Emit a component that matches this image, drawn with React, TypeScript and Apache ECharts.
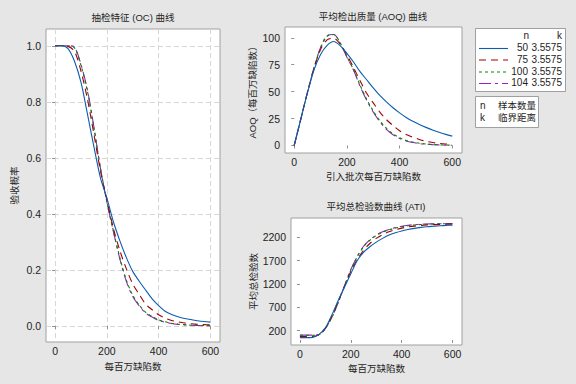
import React, { useEffect, useRef } from "react";
import * as echarts from "echarts";

// defects per million (x)
const xs = [0, 25, 50, 75, 100, 125, 150, 175, 200, 225, 250, 275, 300, 325, 350, 375, 400, 425, 450, 475, 500, 525, 550, 575, 600];

const sampleSizes = ["50", "75", "100", "104"];
const kValue = "3.5575";

// OC curve: probability of acceptance
const ocN50 = [1, 1, 0.99, 0.945, 0.87, 0.757, 0.64, 0.53, 0.457, 0.373, 0.305, 0.245, 0.195, 0.16, 0.128, 0.097, 0.073, 0.053, 0.041, 0.033, 0.027, 0.023, 0.019, 0.016, 0.014];
const ocN75 = [1, 1, 0.998, 0.98, 0.91, 0.81, 0.685, 0.555, 0.45, 0.35, 0.27, 0.205, 0.15, 0.113, 0.078, 0.058, 0.04, 0.028, 0.02, 0.015, 0.011, 0.008, 0.006, 0.005, 0.004];
const ocN100 = [1, 1, 1, 0.993, 0.93, 0.838, 0.707, 0.565, 0.445, 0.34, 0.245, 0.165, 0.11, 0.075, 0.049, 0.034, 0.022, 0.015, 0.01, 0.007, 0.005, 0.003, 0.002, 0.002, 0.001];
const ocN104 = [1, 1, 1, 0.995, 0.934, 0.843, 0.71, 0.565, 0.443, 0.338, 0.24, 0.16, 0.105, 0.072, 0.046, 0.032, 0.02, 0.014, 0.009, 0.006, 0.004, 0.003, 0.002, 0.001, 0.001];

// AOQ curve
const aoqN50 = [0, 24.5, 48.5, 70, 84.5, 93, 96.5, 92.5, 85.5, 77.5, 68.5, 61, 53.5, 46.5, 40.5, 35, 30.3, 26, 22.4, 19.5, 16.8, 14.3, 12.2, 10.3, 8.7];
const aoqN75 = [0, 24.5, 49, 71.5, 89, 98, 99.5, 94, 84, 72.5, 60, 48.5, 39.5, 31, 24, 18.5, 13.6, 10.2, 7.7, 5.6, 3.9, 2.8, 2, 1.4, 0.9];
const aoqN100 = [0, 24.5, 49, 72, 90.5, 101.5, 103, 95, 82.5, 70.5, 56, 43, 32, 23, 16, 10.8, 7.2, 4.7, 3.1, 2.1, 1.4, 0.9, 0.6, 0.4, 0.3];
const aoqN104 = [0, 24.5, 49, 72, 91, 102, 103, 94.5, 82, 70, 55, 42, 31, 22, 15, 10, 6.5, 4.2, 2.8, 1.8, 1.2, 0.8, 0.5, 0.3, 0.2];

// ATI curve
const atiN50 = [50, 50, 55, 120, 260, 530, 840, 1130, 1420, 1700, 1880, 2000, 2100, 2180, 2250, 2300, 2340, 2370, 2395, 2415, 2430, 2440, 2450, 2457, 2465];
const atiN75 = [75, 75, 76, 115, 250, 500, 820, 1150, 1470, 1720, 1920, 2070, 2180, 2260, 2320, 2365, 2400, 2425, 2443, 2457, 2467, 2474, 2480, 2484, 2487];
const atiN100 = [100, 100, 100, 112, 245, 475, 795, 1150, 1500, 1780, 2000, 2140, 2240, 2312, 2363, 2400, 2430, 2452, 2467, 2477, 2484, 2489, 2492, 2494, 2495];
const atiN104 = [104, 104, 104, 115, 250, 480, 800, 1160, 1510, 1790, 2010, 2150, 2250, 2320, 2370, 2410, 2440, 2460, 2474, 2482, 2488, 2492, 2494, 2496, 2497];

const xTicks = [0, 200, 400, 600];
const ocTicks = [0, 0.2, 0.4, 0.6, 0.8, 1.0];
const aoqTicks = [0, 25, 50, 75, 100];
const atiTicks = [200, 700, 1200, 1700, 2200];

const colors = ["#0a5cb0", "#a00000", "#008a00", "#9a1fc8"];
const dashes: any[] = ["solid", [7, 5], [3, 3], [12, 4, 3, 4]];

const FONT = "'Liberation Sans', 'Noto Sans CJK SC', sans-serif";
const TXT = "#1e1e1e";

function pairs(ys: number[]) {
  return xs.map((x, i) => [x, ys[i]]);
}

export default function App() {
  const ref = useRef<HTMLDivElement>(null);
  useEffect(() => {
    if (!ref.current) return;
    const chart = echarts.init(ref.current, undefined, { renderer: "svg" });

    const grids = [
      { left: 46, top: 29, width: 174, height: 313 },
      { left: 285, top: 27, width: 177, height: 126 },
      { left: 291, top: 218, width: 171, height: 127 },
    ].map((g) => ({ ...g, show: true, backgroundColor: "#ffffff", borderColor: "#a0a0a0", borderWidth: 1 }));

    const xName = ["每百万缺陷数", "引入批次每百万缺陷数", "每百万缺陷数"];
    const xAxis = [0, 1, 2].map((i) => ({
      type: "value",
      gridIndex: i,
      min: -35,
      max: 637,
      name: xName[i],
      nameLocation: "middle",
      nameGap: 19,
      nameTextStyle: { fontFamily: FONT, fontSize: 9.5, color: TXT, verticalAlign: "top" },
      axisLine: { show: false },
      axisTick: { show: true, length: 3, customValues: xTicks, lineStyle: { color: "#909090" } },
      axisLabel: { customValues: xTicks, fontFamily: FONT, fontSize: 10.5, color: TXT, margin: 4 },
      splitLine: i === 0 ? { show: true, lineStyle: { color: "#d6d6d6", type: [5, 3] } } : { show: false },
    }));

    const yCfg = [
      { min: -0.057, max: 1.06, ticks: ocTicks, name: "验收概率", gap: 27, fmt: (v: number) => v.toFixed(1) },
      { min: -7, max: 110, ticks: aoqTicks, name: "AOQ（每百万缺陷数）", gap: 28, fmt: (v: number) => String(v) },
      { min: -108, max: 2617, ticks: atiTicks, name: "平均总检验数", gap: 32, fmt: (v: number) => String(v) },
    ];
    const yAxis = yCfg.map((c, i) => ({
      type: "value",
      gridIndex: i,
      min: c.min,
      max: c.max,
      name: c.name,
      nameLocation: "middle",
      nameRotate: 90,
      nameGap: c.gap,
      nameTextStyle: { fontFamily: FONT, fontSize: 9.5, color: TXT },
      axisLine: { show: false },
      axisTick: { show: true, length: 3, customValues: c.ticks, lineStyle: { color: "#909090" } },
      axisLabel: { customValues: c.ticks, formatter: c.fmt, fontFamily: FONT, fontSize: 10.5, color: TXT, margin: 5 },
      splitLine: i === 0 ? { show: true, lineStyle: { color: "#d6d6d6", type: [5, 3] } } : { show: false },
    }));

    const sets = [
      [ocN50, ocN75, ocN100, ocN104],
      [aoqN50, aoqN75, aoqN100, aoqN104],
      [atiN50, atiN75, atiN100, atiN104],
    ];
    const series: any[] = [];
    sets.forEach((group, gi) => {
      group.forEach((ys, si) => {
        series.push({
          type: "line",
          xAxisIndex: gi,
          yAxisIndex: gi,
          data: pairs(ys),
          smooth: 0.3,
          symbol: "none",
          lineStyle: { color: colors[si], width: 1.1, type: dashes[si] },
          z: 10 - si,
        });
      });
    });

    const titleStyle = (text: string, x: number, y: number) => ({
      type: "text",
      x,
      y,
      style: { text, fontFamily: FONT, fontSize: 9.5, fill: TXT, align: "center", verticalAlign: "middle" },
    });

    const legendRowsY = [47.5, 59, 71, 82.5];
    const legendEls: any[] = [
      { type: "rect", shape: { x: 475.5, y: 28.5, width: 90, height: 63 }, style: { fill: "#fff", stroke: "#a0a0a0", lineWidth: 1 } },
      { type: "text", x: 529, y: 35.5, style: { text: "n", fontFamily: FONT, fontSize: 10, fill: TXT, align: "right", verticalAlign: "middle" } },
      { type: "text", x: 562, y: 35.5, style: { text: "k", fontFamily: FONT, fontSize: 10, fill: TXT, align: "right", verticalAlign: "middle" } },
      { type: "rect", shape: { x: 475.5, y: 96.5, width: 63, height: 31 }, style: { fill: "#fff", stroke: "#a0a0a0", lineWidth: 1 } },
      { type: "text", x: 480, y: 105.5, style: { text: "n", fontFamily: FONT, fontSize: 10, fill: TXT, align: "left", verticalAlign: "middle" } },
      { type: "text", x: 498, y: 105.5, style: { text: "样本数量", fontFamily: FONT, fontSize: 9.5, fill: TXT, align: "left", verticalAlign: "middle" } },
      { type: "text", x: 480, y: 117.5, style: { text: "k", fontFamily: FONT, fontSize: 10, fill: TXT, align: "left", verticalAlign: "middle" } },
      { type: "text", x: 498, y: 117.5, style: { text: "临界距离", fontFamily: FONT, fontSize: 9.5, fill: TXT, align: "left", verticalAlign: "middle" } },
    ];
    sampleSizes.forEach((n, i) => {
      const y = legendRowsY[i];
      legendEls.push({
        type: "line",
        shape: { x1: 479, y1: y + 1, x2: 508, y2: y + 1 },
        style: { stroke: colors[i], lineWidth: 1.1, lineDash: dashes[i] === "solid" ? null : dashes[i] },
      });
      legendEls.push({ type: "text", x: 528, y, style: { text: n, fontFamily: FONT, fontSize: 10, fill: TXT, align: "right", verticalAlign: "middle" } });
      legendEls.push({ type: "text", x: 562, y, style: { text: kValue, fontFamily: FONT, fontSize: 10, fill: TXT, align: "right", verticalAlign: "middle" } });
    });

    chart.setOption({
      animation: false,
      backgroundColor: "#e6e6e6",
      grid: grids,
      xAxis,
      yAxis,
      series,
      graphic: [
        titleStyle("抽检特征 (OC) 曲线", 133, 17),
        titleStyle("平均检出质量 (AOQ) 曲线", 373, 16),
        titleStyle("平均总检验数曲线 (ATI)", 376, 206),
        ...legendEls,
      ],
    });
    return () => chart.dispose();
  }, []);
  return <div ref={ref} style={{ position: "fixed", left: 0, top: 0, width: 576, height: 384 }} />;
}
